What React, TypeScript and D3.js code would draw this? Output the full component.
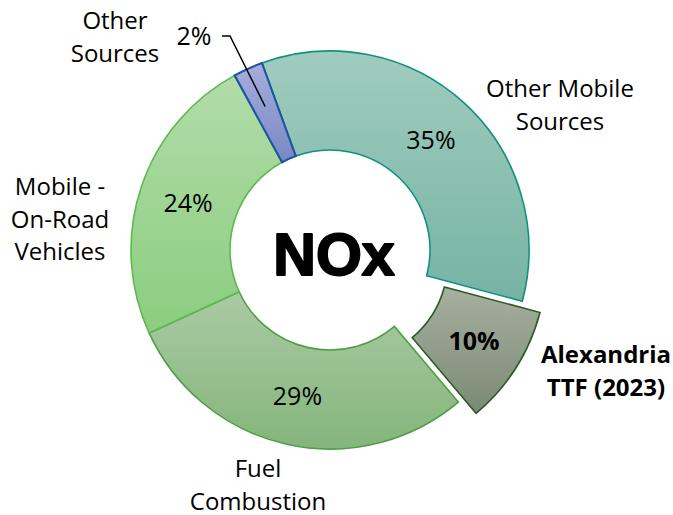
import * as d3 from 'd3';

// slice order clockwise, starting at the top-left edge of "Other Mobile Sources"
const categories = ['Other Mobile Sources', 'Alexandria TTF (2023)', 'Fuel Combustion', 'Mobile - On-Road Vehicles', 'Other Sources'];
const values = [34.7, 9.7, 29.3, 23.9, 2.4];
const exploded = [false, true, false, false, false];
const gradTop = ['#a0ccbe', '#a8afa0', '#aacaa4', '#b2dca9', '#a6aedb'];
const gradBottom = ['#76b3a5', '#7a8a74', '#84b57b', '#8bcd80', '#7888c6'];
const strokes = ['#10917f', '#2d5c28', '#4d9f44', '#5cba4d', '#1d55a3'];

// outside category labels (lines)
const labelLines: string[][] = [
  ['Other Mobile', 'Sources'],
  ['Alexandria', 'TTF (2023)'],
  ['Fuel', 'Combustion'],
  ['Mobile -', 'On-Road', 'Vehicles'],
  ['Other', 'Sources'],
];
const labelPos: [number, number][] = [
  [560, 97],
  [606, 363],
  [258, 477],
  [60, 195],
  [115, 29],
];

const W = 673;
const H = 515;
const cx = 330;
const cy = 250;
const rOuter = 199;
const rInner = 100;
const explodeDist = 21;
const font = '"Open Sans", "Noto Sans", sans-serif';

export default function App() {
  const total = d3.sum(values);
  const start = (-20 * Math.PI) / 180;
  const pie = d3.pie<number>().sort(null).startAngle(start).endAngle(start + 2 * Math.PI);
  const arcs = pie(values);
  const arc = d3.arc<d3.PieArcDatum<number>>().innerRadius(rInner).outerRadius(rOuter);

  const offset = (d: d3.PieArcDatum<number>, i: number) => {
    if (!exploded[i]) return [0, 0];
    const mid = (d.startAngle + d.endAngle) / 2;
    return [Math.sin(mid) * explodeDist, -Math.cos(mid) * explodeDist];
  };

  // small slice leader line
  const small = arcs[4];
  const smallMid = (small.startAngle + small.endAngle) / 2;
  const rIn = (rInner + rOuter) / 2 + 8;
  const lx = Math.sin(smallMid) * rIn;
  const ly = -Math.cos(smallMid) * rIn;

  return (
    <svg width={W} height={H} style={{ position: 'absolute', left: 0, top: 0, background: '#fff' }}>
      <defs>
        {categories.map((c, i) => (
          <linearGradient key={c} id={`g${i}`} x1="0" y1="0" x2="0" y2="1">
            <stop offset="0%" stopColor={gradTop[i]} />
            <stop offset="100%" stopColor={gradBottom[i]} />
          </linearGradient>
        ))}
      </defs>
      <g transform={`translate(${cx},${cy})`}>
        {arcs.map((d, i) => {
          const [ox, oy] = offset(d, i);
          return (
            <path
              key={categories[i]}
              d={arc(d) ?? ''}
              transform={`translate(${ox},${oy})`}
              fill={`url(#g${i})`}
              stroke={strokes[i]}
              strokeWidth={i === 4 ? 2.1 : 1.6}
              strokeLinejoin="miter"
            />
          );
        })}
        {arcs.map((d, i) => {
          if (i === 4) return null;
          const [ox, oy] = offset(d, i);
          const [x, y] = arc.centroid(d);
          return (
            <text
              key={'p' + i}
              x={x + ox}
              y={y + oy}
              dy="0.36em"
              textAnchor="middle"
              fontFamily={font}
              fontSize={25}
              fontWeight={exploded[i] ? 700 : 400}
              fill="#000"
            >
              {Math.round((d.value / total) * 100)}%
            </text>
          );
        })}
        <polyline
          points={`${lx},${ly} ${230 - cx},${36 - cy} ${222 - cx},${36 - cy}`}
          fill="none"
          stroke="#000"
          strokeWidth={1.5}
        />
        <text x={194 - cx} y={45 - cy} textAnchor="middle" fontFamily={font} fontSize={25} fill="#000">
          {Math.round((small.value / total) * 100)}%
        </text>
        <text
          x={4}
          y={25}
          textAnchor="middle"
          fontFamily='"Liberation Sans", Arial, sans-serif'
          fontSize={59}
          fontWeight={700}
          fill="#000"
          stroke="#000"
          strokeWidth={2}
          strokeLinejoin="round"
        >
          NOx
        </text>
      </g>
      {labelLines.map((lines, i) => (
        <text
          key={'l' + i}
          textAnchor="middle"
          fontFamily={font}
          fontSize={24}
          fontWeight={exploded[i] ? 700 : 400}
          fill="#000"
        >
          {lines.map((t, j) => (
            <tspan key={j} x={labelPos[i][0]} y={labelPos[i][1] + j * 32.5}>
              {t}
            </tspan>
          ))}
        </text>
      ))}
    </svg>
  );
}
